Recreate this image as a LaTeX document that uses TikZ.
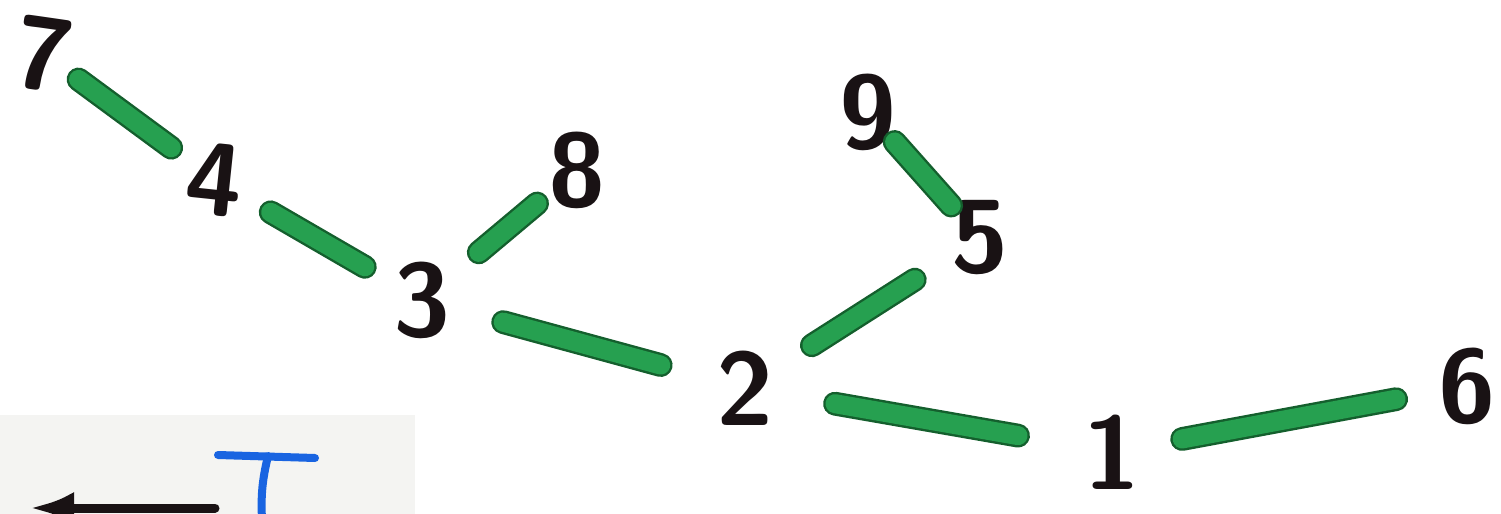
\documentclass[tikz,border=0pt]{standalone}
\usepackage{tikz}
\usetikzlibrary{arrows.meta}
\definecolor{twigcol}{RGB}{38,160,80}
\definecolor{twigedge}{RGB}{20,95,45}
\definecolor{inkcol}{RGB}{25,18,20}
\definecolor{penblue}{RGB}{25,100,225}
\definecolor{sheetcol}{RGB}{244,244,242}
\tikzset{
  num/.style={circle,minimum size=40pt,inner sep=0pt,text=inkcol,
    font=\fontsize{52}{52}\selectfont\sffamily\bfseries},
  twig/.style={-,draw=twigedge,line width=1.2pt,double=twigcol,double distance=9.5pt,line cap=round},
  ink/.style={draw=inkcol,line width=4.5pt,line cap=round},
  blue/.style={draw=penblue,line width=4pt,line cap=round}
}
\begin{document}
\begin{tikzpicture}[x=0.5pt,y=-0.5pt]
  \useasboundingbox (0,0) rectangle (1501,514);
  % corner of the second sheet
  \fill[sheetcol] (0,415) rectangle (415,514);
  \coordinate (tail) at (215,508); \coordinate (head) at (30,508);
  \draw[ink,-{Latex[length=22pt,width=16pt]}] (tail) -- (head);
  \coordinate (tl) at (218,455); \coordinate (tr) at (315,458);
  \coordinate (tt) at (268,456); \coordinate (tb) at (262,520);
  \draw[blue] (tl) -- (tr); \draw[blue] (tt) to[bend right=8] (tb);
  % the tree
  \node[num,rotate=-8] (7) at (44,54){7};  \node[num,rotate=-6] (4) at (215,180){4};
  \node[num] (3) at (422,300){3};          \node[num] (8) at (577,170){8};
  \node[num] (9) at (868,112){9};          \node[num] (5) at (980,238){5};
  \node[num] (2) at (745,388){2};          \node[num] (1) at (1112,452){1};
  \node[num] (6) at (1467,386){6};
  \foreach \a/\b/\s/\t in {7/4/-2/4,4/3/9/9,3/8/13/2,3/2/18/20,2/5/16/15,5/9/-2/-4,2/1/22/24,1/6/12/12}
    {\draw[twig,shorten <=\s pt,shorten >=\t pt] (\a) -- (\b);}
\end{tikzpicture}
\end{document}
